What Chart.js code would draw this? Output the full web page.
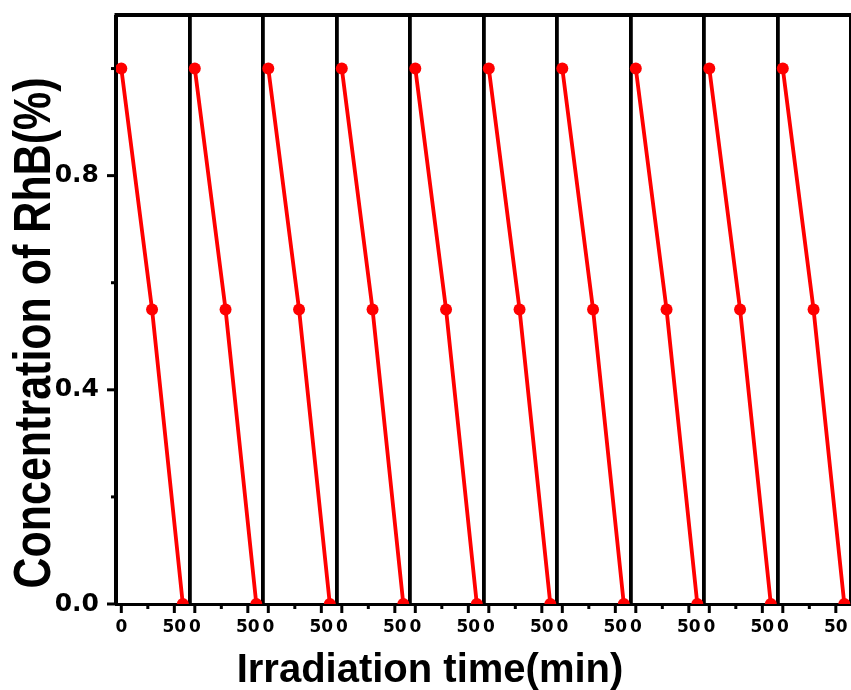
<!DOCTYPE html>
<html>
<head>
<meta charset="utf-8">
<script src="https://cdn.jsdelivr.net/npm/chart.js@4/dist/chart.umd.min.js"></script>
<style>
  html, body { margin: 0; padding: 0; background: #ffffff; }
  #wrap { width: 851px; height: 690px; }
</style>
</head>
<body>
<div id="wrap"><canvas id="c" width="851" height="690"></canvas></div>
<script>
// RhB photodegradation over ten successive reuse cycles
const cycleNames = ['Run 1', 'Run 2', 'Run 3', 'Run 4', 'Run 5',
                    'Run 6', 'Run 7', 'Run 8', 'Run 9', 'Run 10'];
const sampleTimes = [0, 29, 58];           // irradiation time, min
const run1  = [1.0, 0.55, 0.0];
const run2  = [1.0, 0.55, 0.0];
const run3  = [1.0, 0.55, 0.0];
const run4  = [1.0, 0.55, 0.0];
const run5  = [1.0, 0.55, 0.0];
const run6  = [1.0, 0.55, 0.0];
const run7  = [1.0, 0.55, 0.0];
const run8  = [1.0, 0.55, 0.0];
const run9  = [1.0, 0.55, 0.0];
const run10 = [1.0, 0.55, 0.0];
const runs = [run1, run2, run3, run4, run5, run6, run7, run8, run9, run10];

const xMajorTicks = [0, 50];
const xMinorTicks = [25];
const xTickLabels = ['0', '50'];
const yMajorTicks = [0, 0.4, 0.8];
const yMinorTicks = [0.2, 0.6, 1.0];
const yTickLabels = ['0.0', '0.4', '0.8'];
const xTitle = 'Irradiation time(min)';
const yTitle = 'Concentration of RhB(%)';

// every run gets its own panel on one shared time axis
const PANEL = 69.3;   // minutes covered by one panel
const LEAD = 5;       // minutes shown before t = 0 in each panel
const TITLE_FONT = '"Liberation Sans", Arial, sans-serif';
const TICK_FONT = '"DejaVu Sans", Verdana, sans-serif';
const RED = '#ff0000';

const datasets = runs.map((vals, k) => ({
  label: cycleNames[k],
  data: sampleTimes.map((t, i) => ({ x: k * PANEL + t, y: vals[i] })),
  borderColor: RED,
  backgroundColor: RED,
  borderWidth: 3.8,
  pointRadius: 6,
  pointBorderWidth: 0,
  pointBackgroundColor: RED,
  tension: 0
}));

function noScalePadding(scale) {
  scale.paddingTop = 0;
  scale.paddingBottom = 0;
  scale.paddingLeft = 0;
  scale.paddingRight = 0;
}

const framePlugin = {
  id: 'frameAndMarks',
  afterDraw(chart) {
    const ctx = chart.ctx;
    const { left, right, top, bottom } = chart.chartArea;
    const xs = chart.scales.x, ys = chart.scales.y;
    ctx.save();
    ctx.strokeStyle = '#000';
    ctx.lineCap = 'butt';
    // top frame
    ctx.lineWidth = 4;
    ctx.beginPath();
    ctx.moveTo(left - 1.5, top);
    ctx.lineTo(right, top);
    ctx.stroke();
    // x tick marks
    ctx.lineWidth = 3;
    xs.ticks.forEach(t => {
      if (!t.kind) return;
      const px = xs.getPixelForValue(t.value);
      const len = t.kind === 'major' ? 9 : 5;
      ctx.beginPath();
      ctx.moveTo(px, bottom);
      ctx.lineTo(px, bottom + len);
      ctx.stroke();
    });
    // y tick marks
    ys.ticks.forEach(t => {
      const py = ys.getPixelForValue(t.value);
      const len = t.kind === 'major' ? 9 : 5;
      ctx.beginPath();
      ctx.moveTo(left - len, py);
      ctx.lineTo(left, py);
      ctx.stroke();
    });
    // axis titles
    ctx.fillStyle = '#000';
    ctx.textAlign = 'center';
    ctx.textBaseline = 'alphabetic';
    ctx.font = 'bold 40px ' + TITLE_FONT;
    ctx.fillText(xTitle, 430, 682);
    ctx.translate(50, 333);
    ctx.rotate(-Math.PI / 2);
    ctx.scale(1, 1.22);
    ctx.font = 'bold 43px ' + TITLE_FONT;
    ctx.fillText(yTitle, 0, 0);
    ctx.restore();
  }
};

new Chart(document.getElementById('c'), {
  type: 'line',
  data: { datasets },
  plugins: [framePlugin],
  options: {
    responsive: false,
    animation: false,
    devicePixelRatio: 1,
    layout: { autoPadding: false, padding: { top: 15, right: 0, bottom: 0, left: 0 } },
    plugins: { legend: { display: false }, tooltip: { enabled: false } },
    scales: {
      x: {
        type: 'linear',
        min: -LEAD,
        max: runs.length * PANEL - LEAD,
        afterBuildTicks(scale) {
          const ticks = [];
          runs.forEach((_, k) => {
            ticks.push({ value: k * PANEL - LEAD, sep: true });
            xMajorTicks.forEach((v, i) => {
              ticks.push({ value: k * PANEL + v, kind: 'major', lab: xTickLabels[i] });
            });
            xMinorTicks.forEach(v => ticks.push({ value: k * PANEL + v, kind: 'minor' }));
          });
          ticks.push({ value: runs.length * PANEL - LEAD, sep: true });
          ticks.sort((a, b) => a.value - b.value);
          scale.ticks = ticks;
        },
        afterFit(scale) { scale.height = 86; noScalePadding(scale); },
        ticks: {
          autoSkip: false,
          maxRotation: 0,
          minRotation: 0,
          padding: 13,
          color: '#000',
          font: { family: TICK_FONT, size: 17, weight: 'bold' },
          callback: (v, i, ticks) => ticks[i].lab || ''
        },
        grid: {
          drawTicks: false,
          color: c => (c.tick && c.tick.sep) ? '#000' : 'rgba(0,0,0,0)',
          lineWidth: c => (c.tick && c.tick.sep) ? 3.8 : 0
        },
        border: { color: '#000', width: 3 }
      },
      y: {
        min: 0,
        max: 1.1,
        afterBuildTicks(scale) {
          const ticks = [];
          yMajorTicks.forEach((v, i) => ticks.push({ value: v, kind: 'major', lab: yTickLabels[i] }));
          yMinorTicks.forEach(v => ticks.push({ value: v, kind: 'minor' }));
          ticks.sort((a, b) => a.value - b.value);
          scale.ticks = ticks;
        },
        afterFit(scale) { scale.width = 116; noScalePadding(scale); },
        ticks: {
          padding: 17,
          color: '#000',
          font: { family: TICK_FONT, size: 25, weight: 'bold' },
          callback: (v, i, ticks) => ticks[i].lab || ''
        },
        grid: { drawOnChartArea: false, drawTicks: false },
        border: { color: '#000', width: 3 }
      }
    }
  }
});
</script>
</body>
</html>
